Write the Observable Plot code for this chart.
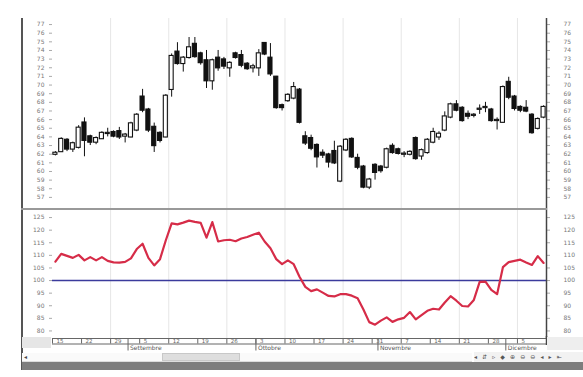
<!DOCTYPE html>
<html><head><meta charset="utf-8">
<script src="https://cdn.jsdelivr.net/npm/d3@7"></script>
<script src="https://cdn.jsdelivr.net/npm/@observablehq/plot@0.6"></script>
<style>
body{margin:0;background:#fff;font-family:"DejaVu Sans",sans-serif;}
#wrap{position:relative;width:583px;height:377px;overflow:hidden;background:#fff;}
#wrap > svg, #wrap > div{position:absolute;}
</style></head><body><div id="wrap"></div>
<script>
// ---- data (one value per trading day, 15 Aug - 9 Dec) ----
const openP  = [62.0,62.3,63.6,62.6,62.8,65.6,64.0,63.4,63.8,64.4, 64.5,64.6,64.1,64.0,64.8,68.6,67.1,65.1,64.4,64.0, 69.5,73.8,72.5,73.2,74.7,73.6,72.8,70.5,73.1,72.9, 72.0,73.6,73.4,72.4,72.0,72.0,74.8,73.1,70.9,67.6, 68.2,68.5,69.4,64.0,63.8,63.0,62.1,61.9,62.3,58.9, 62.5,63.7,61.5,60.5,58.2,60.7,60.5,60.5,62.9,62.5, 62.0,62.0,63.8,61.8,62.2,63.4,64.0,64.8,66.3,67.7, 67.3,66.6,66.5,67.2,67.4,67.1,65.9,65.7,70.3,68.6, 67.4,67.3,66.5,65.0,66.3];
const highP  = [62.3,63.9,63.8,63.4,65.3,66.2,64.2,64.0,64.6,65.0, 64.7,65.1,64.4,65.7,66.7,69.5,67.3,65.6,64.6,68.9, 73.6,74.9,73.3,75.5,75.5,73.8,74.0,73.0,74.0,73.2, 72.7,73.8,74.0,72.6,72.4,74.1,74.9,74.8,71.0,67.8, 69.0,70.3,69.6,64.6,64.2,63.2,62.5,62.1,63.5,63.0, 63.8,63.9,62.0,60.7,59.2,60.9,60.7,62.7,63.2,62.7, 62.3,62.4,64.0,62.6,63.8,65.0,64.6,66.9,67.9,68.2, 67.5,67.0,66.7,67.7,68.0,67.3,66.2,69.9,70.9,68.8, 67.6,68.2,66.7,66.2,67.6];
const lowP   = [61.8,62.2,62.3,62.2,62.6,61.7,63.0,63.1,63.7,64.0, 63.9,63.7,63.3,63.9,64.6,66.8,64.5,62.2,63.3,63.9, 68.6,72.3,71.5,73.0,73.1,72.3,69.6,69.4,71.6,71.8, 70.9,73.0,72.0,71.7,71.4,71.0,73.4,71.0,67.2,67.0, 68.0,68.3,65.5,63.0,62.4,60.4,61.5,60.4,60.8,58.7, 62.3,61.5,60.2,58.0,57.9,59.0,59.8,60.3,62.0,61.9, 61.6,61.8,61.3,61.3,62.0,63.2,63.6,64.6,66.1,66.9, 65.7,66.0,66.2,66.6,66.8,65.7,64.8,65.6,68.3,67.0, 66.8,66.8,64.3,64.8,66.1];
const closeP = [62.1,63.7,62.6,63.2,65.0,63.6,63.4,63.8,64.4,64.4, 64.1,64.0,64.2,65.5,66.5,67.1,64.8,63.0,63.6,68.7, 73.3,72.5,73.1,74.3,73.3,72.6,70.5,72.8,72.0,72.2, 72.5,73.2,72.3,71.9,72.1,73.6,73.6,71.3,67.4,67.4, 68.8,69.7,65.7,63.3,62.7,61.7,61.9,61.1,61.0,62.8, 63.6,61.7,60.5,58.2,59.0,59.9,60.1,62.5,62.2,62.1, 62.0,62.2,61.5,62.4,63.6,64.5,64.3,66.3,67.7,67.1, 65.9,66.4,66.5,67.2,67.4,65.9,65.9,69.7,68.6,67.3, 67.1,67.0,64.5,66.0,67.4];
const momentum = [107.5,110.6,109.8,109.0,110.2,108.0,109.3,108.0,109.3,107.8, 107.2,107.1,107.4,108.8,112.5,114.6,109.0,106.0,108.5,116.0, 122.7,122.3,123.0,123.8,123.3,122.9,117.0,123.2,115.5,116.0, 116.2,115.6,116.7,117.3,118.2,119.0,115.5,112.8,108.5,106.5, 108.0,106.5,101.5,97.5,95.8,96.5,95.2,93.9,93.7,94.6, 94.6,94.0,93.0,88.5,83.5,82.5,84.1,85.4,83.6,84.6, 85.2,87.5,84.6,86.3,88.0,88.8,88.5,91.3,93.8,92.0, 89.9,89.7,92.3,99.5,99.6,96.3,94.6,105.3,107.3,107.8, 108.3,107.2,106.2,109.7,107.0];
const referenceLevel = [100];

// ---- ticks ----
const priceTicks = d3.range(57, 78);
const momTicks = [80, 85, 90, 95, 100, 105, 110, 115, 120, 125];
const weekIdx = [0,5,10,15,20,25,30,35,40,45,50,55,60,65,70,75,80];
const weekLabels = ["15","22","29","5","12","19","26","3","10","17","24","31","7","14","21","28","5"];
const gridIdx = [10,20,30,40,50,60,70,80];
const monthIdx = [13,35,56,78];
const monthLabels = ["Settembre","Ottobre","Novembre","Dicembre"];
const nDays = 85;

const candles = openP.map((o, i) => ({i, o, h: highP[i], l: lowP[i], c: closeP[i]}));
const mom = momentum.map((v, i) => ({i, v}));
const weeks = weekIdx.map((x, k) => ({x, label: weekLabels[k]}));
const months = monthIdx.map((x, k) => ({x, label: monthLabels[k]}));

const wrap = document.getElementById("wrap");
const font = "DejaVu Sans, sans-serif";
const common = {width: 583, marginLeft: 52, marginRight: 37, x: {domain: [0, nDays], axis: null}};

function place(el, y){ el.style.left = "0px"; el.style.top = y + "px"; wrap.appendChild(el); }

// ---- price panel ----
const pricePanel = Plot.plot({
  ...common, height: 210, marginTop: 18, marginBottom: 1,
  y: {domain: [55.6, 77.7], axis: null},
  color: {type: "identity"},
  style: {fontFamily: font, fontSize: "6px", color: "#777", background: "transparent", overflow: "visible"},
  marks: [
    Plot.ruleX(gridIdx, {stroke: "#e6e6e6"}),
    Plot.axisY({anchor: "left", ticks: priceTicks, tickSize: 3, tickPadding: 5, stroke: "#aaa", fontSize: 6, tickFormat: d => d, label: null}),
    Plot.axisY({anchor: "right", ticks: priceTicks, tickSize: 3, tickPadding: 14, stroke: "#aaa", fontSize: 6, tickFormat: d => d, label: null}),
    Plot.ruleX(candles, {x: d => d.i + 0.5, y1: "l", y2: "h", stroke: "#111"}),
    Plot.rect(candles, {x1: d => d.i + 0.15, x2: d => d.i + 0.85,
      y1: d => Math.min(d.o, d.c), y2: d => Math.max(d.o, d.c),
      fill: d => d.c < d.o ? "#111" : "#fff", stroke: "#111", strokeWidth: 1.1,
      insetTop: -0.6, insetBottom: -0.6}),
    Plot.ruleX([nDays], {stroke: "#444", strokeWidth: 1.5})
  ]
});
place(pricePanel, 0);

// ---- momentum panel ----
const momPanel = Plot.plot({
  ...common, height: 129, marginTop: 0, marginBottom: 0,
  y: {domain: [77, 128.2], axis: null},
  style: {fontFamily: font, fontSize: "6px", color: "#777", background: "transparent", overflow: "visible"},
  marks: [
    Plot.ruleX(gridIdx, {stroke: "#e6e6e6"}),
    Plot.axisY({anchor: "left", ticks: momTicks, tickSize: 3, tickPadding: 5, stroke: "#aaa", fontSize: 6, label: null}),
    Plot.axisY({anchor: "right", ticks: momTicks, tickSize: 3, tickPadding: 14, stroke: "#aaa", fontSize: 6, label: null}),
    Plot.ruleY(referenceLevel, {stroke: "#3b3b9c", strokeWidth: 1.5}),
    Plot.line(mom, {x: d => d.i + 0.5, y: "v", stroke: "#d62c48", strokeWidth: 2.2, curve: "linear"}),
    Plot.ruleX([nDays], {stroke: "#444", strokeWidth: 1.5})
  ]
});
place(momPanel, 209);

// ---- time axis band ----
const band = Plot.plot({
  ...common, height: 20, marginTop: 0, marginBottom: 0,
  y: {domain: [0, 20], range: [0, 20], axis: null},
  style: {fontFamily: font, fontSize: "5.5px", color: "#555", background: "transparent", overflow: "visible"},
  marks: [
    Plot.ruleY([2, 7.5], {x1: 0, x2: nDays, stroke: "#666"}),
    Plot.ruleX(weeks, {x: "x", y1: 2, y2: 7.5, stroke: "#666"}),
    Plot.ruleX(months, {x: "x", y1: 2, y2: 14.5, stroke: "#666"}),
    Plot.text(weeks, {x: "x", y: 4.9, text: "label", dx: 4, textAnchor: "start", fill: "#666", fontSize: 5.5}),
    Plot.text(months, {x: "x", y: 11.8, text: "label", dx: 2, textAnchor: "start", fill: "#555", fontSize: 6}),
    Plot.ruleX([nDays], {y1: 0, y2: 9, stroke: "#444", strokeWidth: 1.5})
  ]
});
place(band, 336);

// ---- window chrome ----
function box(l, t, w, h, css){ const d = document.createElement("div"); d.style.cssText = `left:${l}px;top:${t}px;width:${w}px;height:${h}px;${css}`; wrap.appendChild(d); return d; }
box(21, 18, 1.5, 352, "background:#555");
box(21, 208, 526, 1.5, "background:#999");
box(22, 337, 29, 11, "background:#e6e6e6");
box(547, 337, 36, 13, "background:#eee");
box(22, 353, 450, 8, "background:#fafafa;border-bottom:1px solid #ddd");
box(162, 353, 78, 8, "background:#dedede;border:1px solid #c8c8c8;box-sizing:border-box");
box(22, 362, 561, 8, "background:#7d7d7d");
const nav = box(474, 352, 109, 10, "font:6px DejaVu Sans, sans-serif;line-height:10px;color:#555;letter-spacing:1.6px;white-space:nowrap;overflow:hidden;background:#f2f2f2");
nav.textContent = "◂ ⇵ ▹ ◆ ⊕ ⊖ ⊖ ◂ ▸ ⇤";
const lArr = box(24, 353, 8, 8, "font:6px DejaVu Sans, sans-serif;line-height:8px;color:#444");
lArr.textContent = "◂";
</script>
</body></html>
